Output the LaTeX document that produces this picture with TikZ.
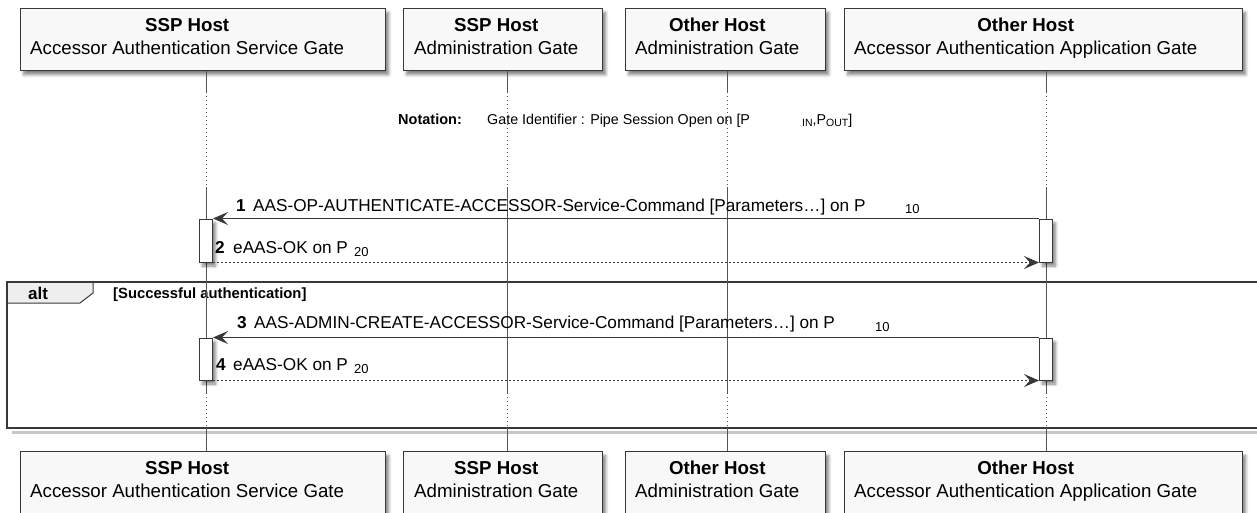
\documentclass[tikz,border=0pt]{standalone}
\usepackage{fontspec}
\setmainfont{Liberation Sans}
\usetikzlibrary{arrows.meta,shadows.blur}
\definecolor{boxfill}{HTML}{F8F8F8}
\definecolor{ink}{HTML}{383838}
\definecolor{tabfill}{HTML}{EEEEEE}
\definecolor{lifegray}{HTML}{555555}
\begin{document}
\begin{tikzpicture}[x=1pt,y=-1pt,
  shad/.style={blur shadow={shadow xshift=3pt,shadow yshift=-4pt,shadow blur radius=3pt,shadow blur steps=6,shadow opacity=50}},
  partbox/.style={draw=ink, line width=1.3pt, fill=boxfill, minimum height=62pt, inner sep=0pt, anchor=north west, shad},
  parttext/.style={anchor=west, inner sep=0pt, align=center, font=\fontsize{18.7}{23}\selectfont},
  actbox/.style={draw=ink, line width=1pt, fill=white, minimum width=13pt, inner sep=0pt, shad},
  lifesolid/.style={draw=lifegray, line width=0.9pt},
  lifedot/.style={draw=lifegray, line width=0.9pt, dash pattern=on 1pt off 3pt},
  msgline/.style={draw=ink, line width=1.1pt, -{Stealth[length=15pt,width=13pt,inset=6pt]}},
  retline/.style={msgline, dash pattern=on 2pt off 2pt},
  numlbl/.style={anchor=base west, inner sep=0pt, font=\bfseries\fontsize{17.2}{20}\selectfont},
  lbl/.style={anchor=base west, inner sep=0pt, font=\fontsize{17.2}{20}\selectfont},
  sublbl/.style={anchor=base west, inner sep=0pt, font=\fontsize{13}{15}\selectfont},
]
\useasboundingbox (0,0) rectangle (1257,512);
\clip (0,0) rectangle (1257,512);

% participants
\node[partbox, minimum width=365pt] (t1) at (20,8) {};
\node[partbox, minimum width=199pt] (t2) at (403,8) {};
\node[partbox, minimum width=200pt] (t3) at (625,8) {};
\node[partbox, minimum width=398pt] (t4) at (844,8) {};
\node[partbox, minimum width=365pt] (b1) at (20,451) {};
\node[partbox, minimum width=199pt] (b2) at (403,451) {};
\node[partbox, minimum width=200pt] (b3) at (625,451) {};
\node[partbox, minimum width=398pt] (b4) at (844,451) {};
\foreach \p in {t,b}{
  \node[parttext] (\p1txt) at ([xshift=10pt,yshift=1pt]\p1.west) {\strut\textbf{SSP Host}\\\strut Accessor Authentication Service Gate};
  \node[parttext] (\p2txt) at ([xshift=11pt,yshift=1pt]\p2.west) {\strut\textbf{SSP Host}\\\strut Administration Gate};
  \node[parttext] (\p3txt) at ([xshift=10pt,yshift=1pt]\p3.west) {\strut\textbf{Other Host}\\\strut Administration Gate};
  \node[parttext] (\p4txt) at ([xshift=10pt,yshift=1pt]\p4.west) {\strut\textbf{Other Host}\\\strut Accessor Authentication Application Gate};
}

% alt frame
\draw[black!22, line width=3pt] (12,432) -- (1257,432);
\draw[ink, line width=1pt, fill=tabfill] (7,282) -- (93,282) -- (93,293) -- (80,303) -- (7,303) -- cycle;
\draw[ink, line width=2.6pt] (1262,282) -- (7,282) -- (7,428) -- (1262,428);
\node[anchor=base, inner sep=0pt, font=\bfseries\fontsize{17}{20}\selectfont] (altlbl) at (38,299) {alt};
\node[anchor=base west, inner sep=0pt, font=\bfseries\fontsize{14.8}{17}\selectfont] (guard) at (113,298) {[Successful authentication]};

% lifelines
\coordinate (ya) at (0,92);
\coordinate (yb) at (0,187);
\coordinate (yc) at (0,393);
\coordinate (yd) at (0,428);
\foreach \i/\x in {1/206,2/507,3/727,4/1046}{
  \coordinate (l\i) at (\x,0);
  \draw[lifesolid] (l\i |- t\i.south) -- (l\i |- ya);
  \draw[lifedot] (l\i |- ya) -- (l\i |- yb);
  \draw[lifesolid] (l\i |- yb) -- (l\i |- yc);
  \draw[lifedot] (l\i |- yc) -- (l\i |- yd);
  \draw[lifesolid] (l\i |- yd) -- (l\i |- b\i.north);
}

% notation
\node[anchor=base west, inner sep=0pt, font=\bfseries\fontsize{14.5}{17}\selectfont] (notk) at (398,124) {Notation:};
\node[anchor=base west, inner sep=0pt, font=\fontsize{14.3}{17}\selectfont] (notv) at (487,124) {Gate Identifier : Pipe Session Open on [P};
\node[anchor=base west, inner sep=0pt, font=\fontsize{14.3}{17}\selectfont] (nots) at (802,124) {{\fontsize{10.5}{12}\selectfont\raisebox{-2.5pt}{IN}},P{\fontsize{10.5}{12}\selectfont\raisebox{-2.5pt}{OUT}}]};

% activations
\node[actbox, minimum height=43pt] (a1) at (206,240.5) {};
\node[actbox, minimum height=43pt] (a2) at (1046,240.5) {};
\node[actbox, minimum height=42pt] (a3) at (206,359) {};
\node[actbox, minimum height=42pt] (a4) at (1046,359) {};

% messages
\draw[msgline] (a2.north west) -- (a1.north east);
\draw[retline] (a1.south east) -- (a2.south west);
\draw[msgline] (a4.north west) -- (a3.north east);
\draw[retline] (a3.south east) -- (a4.south west);

\node[numlbl] (n1) at (236,211) {1};
\node[lbl] (m1) at (253,211) {AAS-OP-AUTHENTICATE-ACCESSOR-Service-Command [Parameters…] on P};
\node[sublbl] (s1) at (905,213.5) {10};
\node[numlbl] (n2) at (215,253) {2};
\node[lbl] (m2) at (233,253) {eAAS-OK on P};
\node[sublbl] (s2) at (354,256.5) {20};
\node[numlbl] (n3) at (237,328) {3};
\node[lbl] (m3) at (254,328) {AAS-ADMIN-CREATE-ACCESSOR-Service-Command [Parameters…] on P};
\node[sublbl] (s3) at (875,331.5) {10};
\node[numlbl] (n4) at (216,370.5) {4};
\node[lbl] (m4) at (233,370.5) {eAAS-OK on P};
\node[sublbl] (s4) at (354,373.5) {20};
\end{tikzpicture}
\end{document}
